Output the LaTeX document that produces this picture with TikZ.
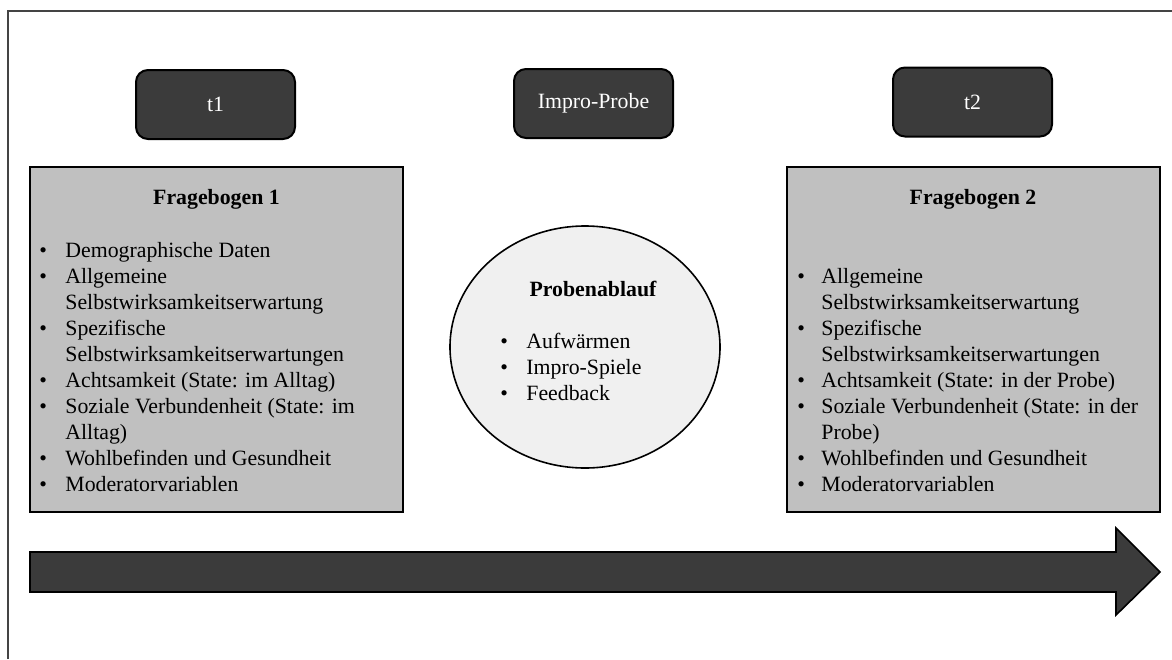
\documentclass[tikz,border=0pt]{standalone}
\usepackage{fontspec}
\setmainfont{Liberation Serif}
\usetikzlibrary{shapes.geometric}
\definecolor{darkfill}{HTML}{3B3B3B}
\definecolor{qgray}{HTML}{C0C0C0}
\definecolor{egray}{HTML}{F0F0F0}
\definecolor{framegray}{HTML}{444444}
\begin{document}
\begin{tikzpicture}[x=0.5pt,y=-0.5pt,
  txt/.style={font=\fontsize{10.9}{13}\selectfont,inner sep=0pt},
  tbox/.style={txt,draw=black,line width=1pt,fill=darkfill,rounded corners=6pt,
    minimum width=79.5pt,minimum height=34.5pt,text=white},
  qbox/.style={draw=black,line width=1pt,fill=qgray,minimum width=186.5pt,
    minimum height=172.5pt,inner sep=0pt},
  pellipse/.style={ellipse,draw=black,line width=0.8pt,fill=egray,
    minimum width=135pt,minimum height=121pt,inner sep=0pt},
  head/.style={txt,font=\fontsize{10.9}{13}\selectfont\bfseries,anchor=base},
  lst/.style={txt,anchor=base west,align=left},
  framel/.style={draw=framegray,line width=0.9pt},
  timearrow/.style={draw=black,line width=0.8pt,fill=darkfill}
]
\useasboundingbox (0,0) rectangle (1172,659);
\draw[framel] (8,659) -- (8,11) -- (1172,11);

% top boxes
\node[tbox] (t1) at (215.5,104.5) {t1};
\node[tbox] (ip) at (593.5,103.5) {Impro-Probe};
\node[tbox] (t2) at (972.5,102) {t2};

% questionnaire boxes
\node[qbox] (fb1) at (216.5,339.5) {};
\node[qbox] (fb2) at (973,339.5) {};

\node[head] (h1) at (216.5,204) {Fragebogen 1};
\node[head] (h2) at (973,204) {Fragebogen 2};

\node[lst] (l1) at (39,257) {\begin{tabular}[t]{@{}p{13pt}@{}l@{}}
\textbullet & Demographische Daten\\
\textbullet & Allgemeine\\
 & Selbstwirksamkeitserwartung\\
\textbullet & Spezifische\\
 & Selbstwirksamkeitserwartungen\\
\textbullet & Achtsamkeit (State: im Alltag)\\
\textbullet & Soziale Verbundenheit (State: im\\
 & Alltag)\\
\textbullet & Wohlbefinden und Gesundheit\\
\textbullet & Moderatorvariablen
\end{tabular}};

\node[lst] (l2) at (797,283) {\begin{tabular}[t]{@{}p{12pt}@{}l@{}}
\textbullet & Allgemeine\\
 & Selbstwirksamkeitserwartung\\
\textbullet & Spezifische\\
 & Selbstwirksamkeitserwartungen\\
\textbullet & Achtsamkeit (State: in der Probe)\\
\textbullet & Soziale Verbundenheit (State: in der\\
 & Probe)\\
\textbullet & Wohlbefinden und Gesundheit\\
\textbullet & Moderatorvariablen
\end{tabular}};

% ellipse
\node[pellipse] (pe) at (585,347) {};
\node[head] (hp) at (593,296) {Probenablauf};
\node[lst] (lp) at (500,348) {\begin{tabular}[t]{@{}p{13pt}@{}l@{}}
\textbullet & Aufwärmen\\
\textbullet & Impro-Spiele\\
\textbullet & Feedback
\end{tabular}};

% time arrow
\draw[timearrow] (30,552) -- (1116,552) -- (1116,528) -- (1160,572)
  -- (1116,615) -- (1116,592) -- (30,592) -- cycle;
\end{tikzpicture}
\end{document}
